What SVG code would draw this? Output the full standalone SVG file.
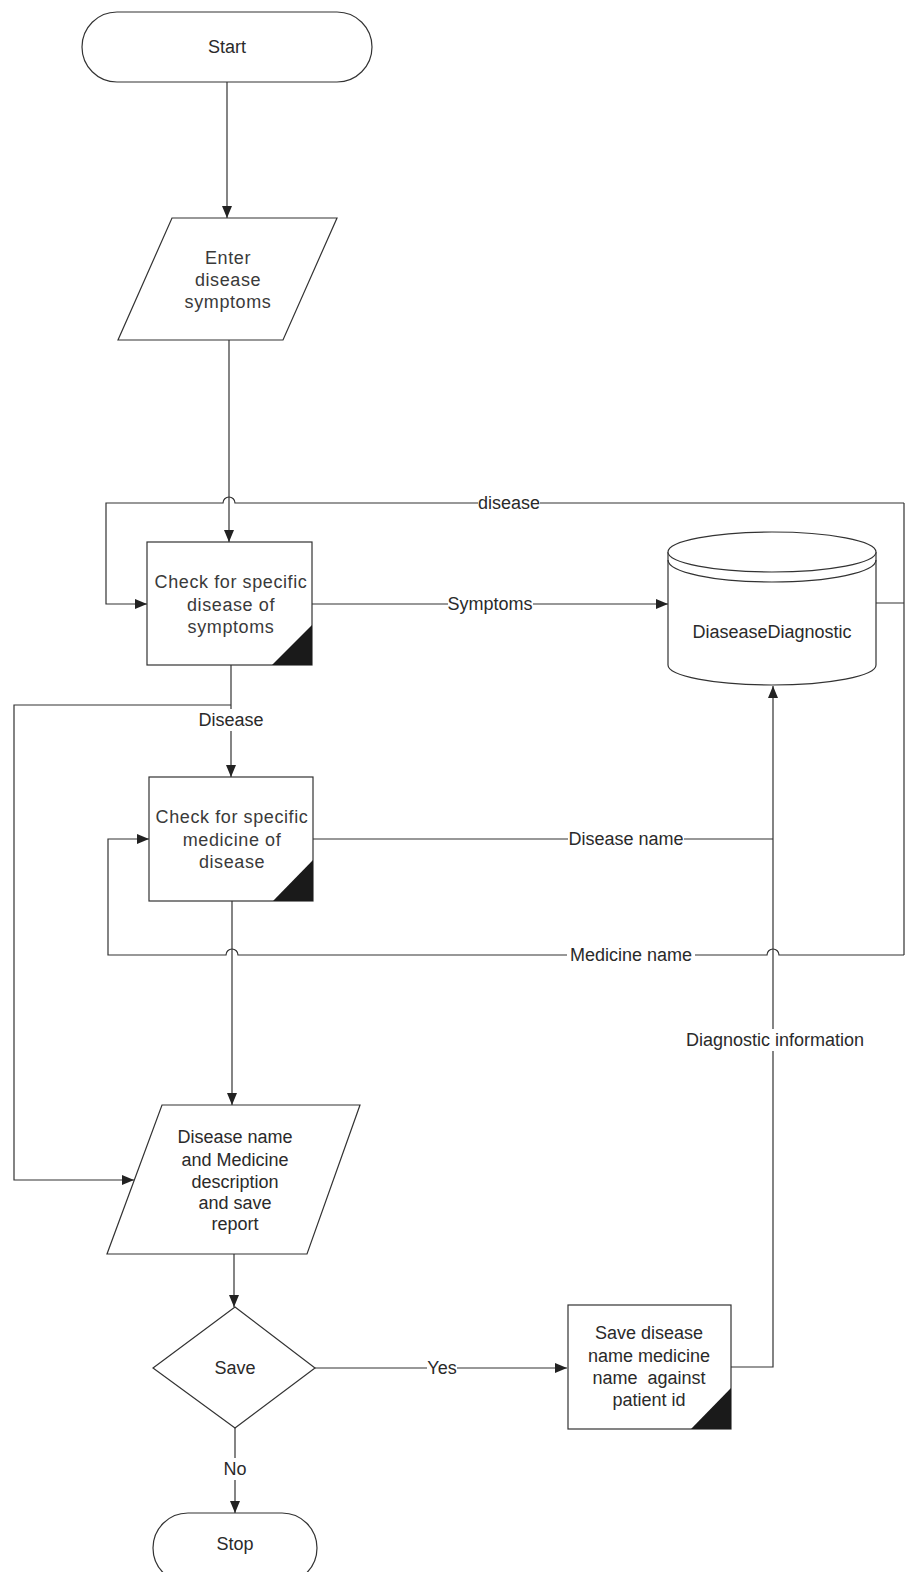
<svg xmlns="http://www.w3.org/2000/svg" width="906" height="1572" viewBox="0 0 906 1572">
  <defs>
    <marker id="arrow" viewBox="0 0 12 10" refX="12" refY="5" markerWidth="12" markerHeight="10" markerUnits="userSpaceOnUse" orient="auto">
      <path d="M0,0 L12,5 L0,10 Z" fill="#222"/>
    </marker>
    <style>
      .shape { fill: #fff; stroke: #333; stroke-width: 1.2; }
      .corner { fill: #1a1a1a; stroke: none; }
      .txt { font-family: "Liberation Sans", Arial, sans-serif; font-size: 18px; fill: #2a2a2a; text-anchor: middle; dominant-baseline: central; }
      .wide { letter-spacing: 0.6px; fill: #3a3a3a; }
      .flow { fill: none; stroke: #333; stroke-width: 1.2; }
      .arrowed { marker-end: url(#arrow); }
      .lblbg { fill: #fff; stroke: none; }
    </style>
  </defs>

  <rect width="906" height="1572" fill="#fff"/>

  <!-- connectors -->
  <g id="connectors">
    <path class="flow arrowed" d="M227,82 V218"/>
    <path class="flow arrowed" d="M229,340 V542"/>
    <!-- disease loop back into the symptom check -->
    <path class="flow arrowed" d="M904,503 H235 A6,6 0 0 0 223,503 H106 V604 H147"/>
    <path class="flow" d="M876,603 H904 M904,503 V955"/>
    <path class="flow arrowed" d="M312,604 H668"/>
    <path class="flow" d="M231,665 V705"/>
    <path class="flow arrowed" d="M231,705 V777"/>
    <path class="flow arrowed" d="M231,705 H14 V1180 H134"/>
    <path class="flow" d="M313,839 H773"/>
    <!-- medicine loop back into the medicine check -->
    <path class="flow arrowed" d="M904,955 H779 A6,6 0 0 0 767,955 H238 A6,6 0 0 0 226,955 H108 V839 H149"/>
    <path class="flow arrowed" d="M232,901 V1105"/>
    <path class="flow arrowed" d="M234,1254 V1307"/>
    <path class="flow arrowed" d="M315,1368 H567"/>
    <path class="flow arrowed" d="M235,1428 V1513"/>
    <path class="flow arrowed" d="M731,1367 H773 V686"/>

    <!-- connector labels -->
    <rect class="lblbg" x="478" y="492" width="62" height="22"/>
    <text class="txt" x="509" y="503">disease</text>
    <rect class="lblbg" x="448" y="593" width="85" height="22"/>
    <text class="txt" x="490" y="604">Symptoms</text>
    <rect class="lblbg" x="199" y="709" width="64" height="22"/>
    <text class="txt" x="231" y="720">Disease</text>
    <rect class="lblbg" x="568" y="828" width="116" height="22"/>
    <text class="txt" x="626" y="839">Disease name</text>
    <rect class="lblbg" x="567" y="944" width="128" height="22"/>
    <text class="txt" x="631" y="955">Medicine name</text>
    <rect class="lblbg" x="685" y="1029" width="180" height="22"/>
    <text class="txt" x="775" y="1040">Diagnostic information</text>
    <rect class="lblbg" x="427" y="1357" width="30" height="22"/>
    <text class="txt" x="442" y="1368">Yes</text>
    <rect class="lblbg" x="222" y="1458" width="26" height="22"/>
    <text class="txt" x="235" y="1469">No</text>
  </g>

  <g id="start">
    <rect class="shape" x="82" y="12" width="290" height="70" rx="35" ry="35"/>
    <text class="txt" x="227" y="47">Start</text>
  </g>

  <g id="enter-symptoms">
    <polygon class="shape" points="172,218 337,218 283,340 118,340"/>
    <text class="txt wide" x="228" y="258">Enter</text>
    <text class="txt wide" x="228" y="280">disease</text>
    <text class="txt wide" x="228" y="302">symptoms</text>
  </g>

  <g id="check-disease">
    <rect class="shape" x="147" y="542" width="165" height="123"/>
    <polygon class="corner" points="272,665 312,625 312,665"/>
    <text class="txt wide" x="231" y="582">Check for specific</text>
    <text class="txt wide" x="231" y="605">disease of</text>
    <text class="txt wide" x="231" y="627">symptoms</text>
  </g>

  <g id="diagnostic-db">
    <path class="shape" d="M668,552 V665 A104,20 0 0 0 876,665 V552"/>
    <ellipse class="shape" cx="772" cy="552" rx="104" ry="20"/>
    <path class="flow" d="M668,560 A104,22 0 0 0 876,560"/>
    <text class="txt" x="772" y="632">DiaseaseDiagnostic</text>
  </g>

  <g id="check-medicine">
    <rect class="shape" x="149" y="777" width="164" height="124"/>
    <polygon class="corner" points="273,901 313,860 313,901"/>
    <text class="txt wide" x="232" y="817">Check for specific</text>
    <text class="txt wide" x="232" y="840">medicine of</text>
    <text class="txt wide" x="232" y="862">disease</text>
  </g>

  <g id="report">
    <polygon class="shape" points="162,1105 360,1105 307,1254 107,1254"/>
    <text class="txt" x="235" y="1137">Disease name</text>
    <text class="txt" x="235" y="1160">and Medicine</text>
    <text class="txt" x="235" y="1182">description</text>
    <text class="txt" x="235" y="1203">and save</text>
    <text class="txt" x="235" y="1224">report</text>
  </g>

  <g id="save-decision">
    <polygon class="shape" points="235,1307 315,1368 235,1428 153,1368"/>
    <text class="txt" x="235" y="1368">Save</text>
  </g>

  <g id="save-record">
    <rect class="shape" x="568" y="1305" width="163" height="124"/>
    <polygon class="corner" points="691,1429 731,1388 731,1429"/>
    <text class="txt" x="649" y="1333">Save disease</text>
    <text class="txt" x="649" y="1356">name medicine</text>
    <text class="txt" x="649" y="1378" xml:space="preserve">name  against</text>
    <text class="txt" x="649" y="1400">patient id</text>
  </g>

  <g id="stop">
    <rect class="shape" x="153" y="1513" width="164" height="70" rx="35" ry="35"/>
    <text class="txt" x="235" y="1544">Stop</text>
  </g>
</svg>
